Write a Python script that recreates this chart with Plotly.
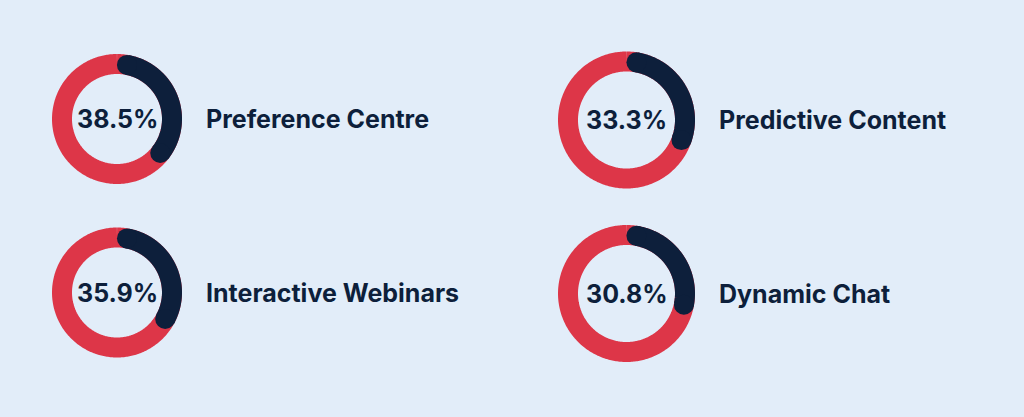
import numpy as np
import plotly.graph_objects as go

# ---- data ----
labels = ["Preference Centre", "Predictive Content", "Interactive Webinars", "Dynamic Chat"]
values = [38.5, 33.3, 35.9, 30.8]

# ---- layout constants (pixels, top-left origin) ----
W, H = 1024, 417
centers = [(117, 119), (626.5, 120), (117, 292.5), (626.5, 293.5)]
outer_r = [65, 68.5, 65, 68.5]
ring_w = 20
label_x = [204, 717, 204, 717]
P = 75  # polar pixel radius

BG = "#e2edf9"
RED = "#dd3648"
NAVY = "#0d1f3b"

fig = go.Figure()
annotations = []
layout_polars = {}

for i, (lab, val) in enumerate(zip(labels, values)):
    cx, cy = centers[i]
    r_mid = outer_r[i] - ring_w / 2
    name = "polar" if i == 0 else f"polar{i+1}"
    sub = name

    th_full = np.linspace(0, 360, 361)
    fig.add_trace(go.Scatterpolar(
        r=np.full_like(th_full, r_mid), theta=th_full, mode="lines",
        line=dict(color=RED, width=ring_w), subplot=sub,
        hoverinfo="skip", showlegend=False))

    cap_deg = np.degrees((ring_w / 2) / r_mid)
    end = val / 100 * 360
    th = np.linspace(cap_deg, end - cap_deg, 200)
    fig.add_trace(go.Scatterpolar(
        r=np.full_like(th, r_mid), theta=th, mode="lines",
        line=dict(color=NAVY, width=ring_w), subplot=sub,
        hoverinfo="skip", showlegend=False))
    fig.add_trace(go.Scatterpolar(
        r=[r_mid, r_mid], theta=[th[0], th[-1]], mode="markers",
        marker=dict(color=NAVY, size=ring_w, line=dict(width=0)), subplot=sub,
        hoverinfo="skip", showlegend=False))

    layout_polars[name] = dict(
        domain=dict(x=[(cx - P) / W, (cx + P) / W],
                    y=[1 - (cy + P) / H, 1 - (cy - P) / H]),
        bgcolor="rgba(0,0,0,0)",
        radialaxis=dict(range=[0, P], visible=False, showgrid=False),
        angularaxis=dict(rotation=90, direction="clockwise", visible=False,
                         showgrid=False),
    )

    annotations.append(dict(
        x=cx / W, y=1 - cy / H, xref="paper", yref="paper",
        text=f"{val:.1f}%", showarrow=False, xanchor="center", yanchor="middle",
        font=dict(family="Inter", size=25, color=NAVY, weight=700)))
    annotations.append(dict(
        x=label_x[i] / W, y=1 - cy / H, xref="paper", yref="paper",
        text=lab, showarrow=False, xanchor="left", yanchor="middle",
        font=dict(family="Inter", size=25, color=NAVY, weight=700)))

fig.update_layout(
    width=W, height=H, margin=dict(l=0, r=0, t=0, b=0),
    paper_bgcolor=BG, plot_bgcolor=BG,
    annotations=annotations, showlegend=False,
    **layout_polars)

fig.write_html("out.html",
               config={"displayModeBar": False, "staticPlot": True},
               post_script="document.body.style.margin='0';"
                           "document.body.style.background='" + BG + "';")
